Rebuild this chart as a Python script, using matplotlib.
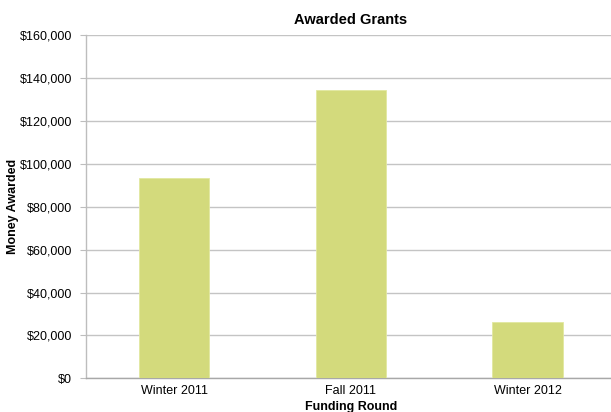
import matplotlib
matplotlib.use("Agg")
import matplotlib.pyplot as plt
from matplotlib.ticker import FuncFormatter, MultipleLocator

plt.rcParams['font.family'] = ['Liberation Sans', 'DejaVu Sans']

rounds = ["Winter 2011", "Fall 2011", "Winter 2012"]
awarded = [93400, 134500, 26100]

fig = plt.figure(figsize=(6.11, 4.12), dpi=100)
ax = fig.add_axes([0.1403, 0.0818, 0.868, 0.8325])

x = range(len(rounds))
ax.bar(x, awarded, width=0.4, color="#D3DA7C", edgecolor="#E2E8A0", linewidth=0.6, zorder=3)

ax.set_xlim(-0.5, len(rounds) - 0.5)
ax.set_ylim(0, 160000)
ax.yaxis.set_major_locator(MultipleLocator(20000))
ax.yaxis.set_major_formatter(FuncFormatter(lambda v, p: f"${v:,.0f}"))
ax.set_xticks(list(x))
ax.set_xticklabels(rounds)

ax.grid(axis="y", color="#C4C4C4", linewidth=1.0, zorder=0)
for side in ("top", "right"):
    ax.spines[side].set_visible(False)
ax.spines["left"].set_color("#BDBDBD")
ax.spines["bottom"].set_color("#A8A8A8")
ax.spines["left"].set_linewidth(1.0)
ax.spines["bottom"].set_linewidth(1.0)

ax.tick_params(axis="y", length=4, color="#BDBDBD", labelsize=9, pad=6)
ax.tick_params(axis="x", length=0, labelsize=9, pad=5)

ax.set_title("Awarded Grants", fontsize=10.5, fontweight="bold", pad=8)
ax.set_ylabel("Money Awarded", fontsize=9, fontweight="bold", labelpad=0)
ax.set_xlabel("Funding Round", fontsize=9, fontweight="bold", labelpad=3)

fig.savefig("out.png", dpi=100)
